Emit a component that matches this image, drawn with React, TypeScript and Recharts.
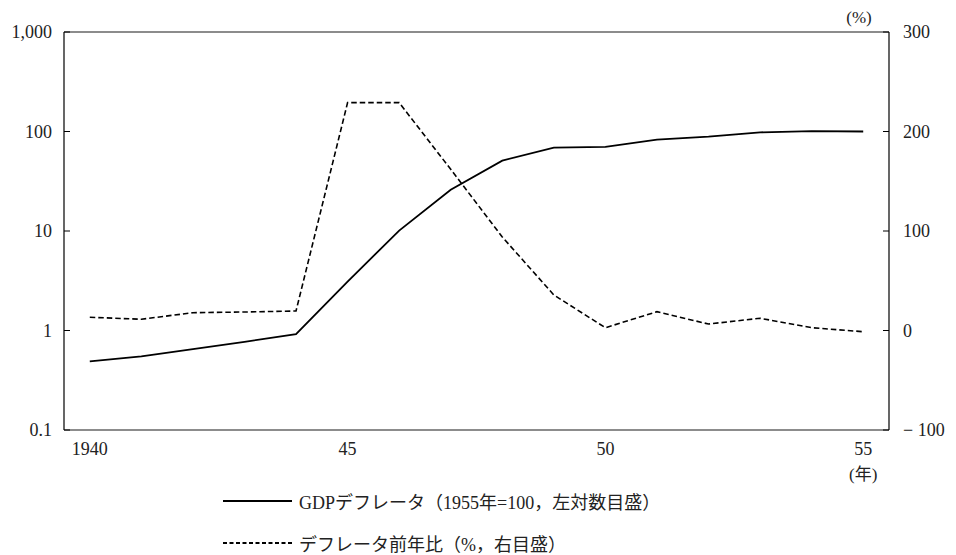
import React from 'react';
import {
  LineChart,
  Line,
  XAxis,
  YAxis,
  Legend,
  ReferenceLine,
} from 'recharts';

// Years 1940–1955
const years = [1940, 1941, 1942, 1943, 1944, 1945, 1946, 1947, 1948, 1949, 1950, 1951, 1952, 1953, 1954, 1955];
// GDP deflator (1955 = 100), plotted on the left log scale
const deflator = [0.49, 0.55, 0.65, 0.77, 0.92, 3.1, 10.1, 26, 51, 69, 70, 83, 89, 98, 101, 100];
// Year-on-year change of the deflator (%), plotted on the right linear scale
const deflatorYoY = [13.3, 11.3, 17.9, 18.6, 19.6, 229, 229, 162, 94, 35.7, 2.8, 18.9, 6.5, 12.3, 2.8, -1.2];

const xTicks = [1940, 1945, 1950, 1955];
const leftTicks = [0.1, 1, 10, 100, 1000];
const rightTicks = [-100, 0, 100, 200, 300];

const seriesNames = {
  deflator: 'GDPデフレータ（1955年=100，左対数目盛）',
  yoy: 'デフレータ前年比（%，右目盛）',
};

const data = years.map((year, i) => ({
  year,
  deflator: deflator[i],
  yoy: deflatorYoY[i],
}));

const FONT = '"Liberation Serif", "Noto Sans CJK JP", serif';
const FONT_SIZE = 18;
const TICK_LEN = 6;
const textStyle = { fontFamily: FONT, fontSize: FONT_SIZE };

const formatLeft = (v: number) => (v >= 1000 ? v.toLocaleString('en-US') : String(v));
const formatRight = (v: number) => (v < 0 ? `\u2212 ${Math.abs(v)}` : String(v));
const formatYear = (v: number) => (v === 1940 ? '1940' : String(v).slice(2));

const LeftTick = (props: any) => {
  const { x, y, payload } = props;
  const axisX = x + 12;
  return (
    <g>
      <line x1={axisX} x2={axisX + TICK_LEN} y1={y} y2={y} stroke="#000" strokeWidth={1} />
      <text x={x} y={y} dy="0.35em" textAnchor="end" style={textStyle} fill="#222">
        {formatLeft(payload.value)}
      </text>
    </g>
  );
};

const RightTick = (props: any) => {
  const { x, y, payload } = props;
  const axisX = x - 14;
  return (
    <g>
      <line x1={axisX - TICK_LEN} x2={axisX} y1={y} y2={y} stroke="#000" strokeWidth={1} />
      <text x={x} y={y} dy="0.35em" textAnchor="start" style={textStyle} fill="#222">
        {formatRight(payload.value)}
      </text>
    </g>
  );
};

const YearTick = (props: any) => {
  const { x, y, payload } = props;
  const isLast = payload.value === years[years.length - 1];
  return (
    <g>
      <text x={x} y={y} dy="0.71em" textAnchor="middle" style={textStyle} fill="#222">
        {formatYear(payload.value)}
      </text>
      {isLast && (
        <text x={x} y={y + 26} dy="0.71em" textAnchor="middle" style={{ ...textStyle, fontSize: FONT_SIZE - 1 }} fill="#222">
          (年)
        </text>
      )}
    </g>
  );
};

const PercentUnit = (props: any) => {
  const { viewBox } = props;
  return (
    <text
      x={viewBox.x - 30}
      y={viewBox.y - 15}
      dy="0.35em"
      textAnchor="middle"
      style={{ ...textStyle, fontSize: FONT_SIZE - 1 }}
      fill="#222"
    >
      (%)
    </text>
  );
};

const LegendRows = (props: any) => {
  const payload = props.payload || [];
  return (
    <div style={{ position: 'relative', height: 80, width: 956 }}>
      {payload.map((entry: any, i: number) => (
        <div
          key={entry.value}
          style={{
            position: 'absolute',
            left: 223,
            top: 26 + i * 42 - 13,
            height: 26,
            display: 'flex',
            alignItems: 'center',
            whiteSpace: 'nowrap',
          }}
        >
          <svg width={70} height={10} style={{ display: 'block' }}>
            <line
              x1={0}
              x2={69}
              y1={5}
              y2={5}
              stroke="#000"
              strokeWidth={1.8}
              strokeDasharray={entry.payload && entry.payload.strokeDasharray ? '4 2.5' : undefined}
            />
          </svg>
          <span style={{ marginLeft: 6, fontFamily: FONT, fontSize: FONT_SIZE, color: '#222' }}>{entry.value}</span>
        </div>
      ))}
    </div>
  );
};

export default function App() {
  return (
    <div style={{ position: 'absolute', left: 0, top: 0, width: 956, height: 555, background: '#fff' }}>
      <LineChart width={956} height={555} data={data} margin={{ top: 32, right: 0, bottom: 0, left: 0 }}>
        <XAxis
          dataKey="year"
          type="number"
          domain={[1939.5, 1955.5]}
          ticks={xTicks}
          tickLine={false}
          tickSize={0}
          tickMargin={12}
          height={45}
          axisLine={{ stroke: '#666', strokeWidth: 1.5 }}
          tick={<YearTick />}
          interval={0}
        />
        <YAxis
          yAxisId="left"
          orientation="left"
          scale="log"
          domain={[0.1, 1000]}
          ticks={leftTicks}
          allowDataOverflow
          width={64}
          tickLine={false}
          tickSize={0}
          tickMargin={12}
          axisLine={{ stroke: '#000', strokeWidth: 1.2 }}
          tick={<LeftTick />}
          interval={0}
        />
        <YAxis
          yAxisId="right"
          orientation="right"
          domain={[-100, 300]}
          ticks={rightTicks}
          width={67}
          tickLine={false}
          tickSize={0}
          tickMargin={14}
          axisLine={{ stroke: '#000', strokeWidth: 1.2 }}
          tick={<RightTick />}
          interval={0}
          label={<PercentUnit />}
        />
        <ReferenceLine yAxisId="left" y={1000} stroke="#666" strokeWidth={1.5} />
        <Line
          yAxisId="left"
          dataKey="deflator"
          name={seriesNames.deflator}
          stroke="#000"
          strokeWidth={1.8}
          dot={false}
          isAnimationActive={false}
        />
        <Line
          yAxisId="right"
          dataKey="yoy"
          name={seriesNames.yoy}
          stroke="#000"
          strokeWidth={1.6}
          strokeDasharray="5.5 3"
          dot={false}
          isAnimationActive={false}
        />
        <Legend
          verticalAlign="bottom"
          align="left"
          layout="horizontal"
          height={80}
          wrapperStyle={{ left: 0, bottom: 0, width: 956, height: 80 }}
          content={<LegendRows />}
        />
      </LineChart>
    </div>
  );
}
